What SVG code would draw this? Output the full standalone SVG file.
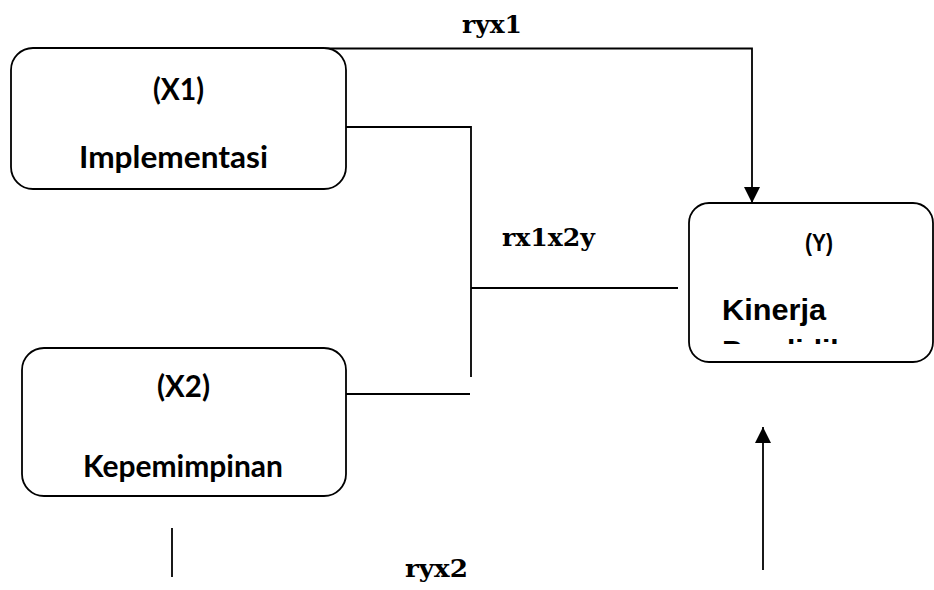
<svg xmlns="http://www.w3.org/2000/svg" width="934" height="590" viewBox="0 0 934 590">
<style>
.box{fill:#fff;stroke:#000;stroke-width:1.8}
.ln{fill:none;stroke:#000;stroke-width:1.8}
.sans{font-family:Lato,"Open Sans","Liberation Sans",sans-serif;font-weight:bold;font-size:30px;fill:#000}
.arial{font-family:"Liberation Sans",Arial,sans-serif;font-weight:bold;fill:#000}
.serif{font-family:"DejaVu Serif","Liberation Serif",serif;font-weight:bold;font-size:24px;fill:#000}
</style>
<defs>
<marker id="ah" markerUnits="userSpaceOnUse" markerWidth="16" markerHeight="16" viewBox="0 0 16 16" refX="16" refY="8" orient="auto">
<path d="M0,0 L16,8 L0,16 Z" fill="#000"/>
</marker>
<clipPath id="yclip"><rect x="689" y="203" width="245" height="141"/></clipPath>
</defs>
<rect width="934" height="590" fill="#fff"/>
<g id="connectors">
<polyline class="ln" points="325,48.5 752,48.5 752,203" marker-end="url(#ah)"/>
<polyline class="ln" points="346,127 471,127 471,377"/>
<line class="ln" x1="471" y1="288" x2="678" y2="288"/>
<line class="ln" x1="346" y1="394" x2="470" y2="394"/>
<line class="ln" x1="172" y1="528" x2="172" y2="577"/>
<line class="ln" x1="763" y1="570" x2="763" y2="427" marker-end="url(#ah)"/>
<text class="serif" x="462" y="33" textLength="60" lengthAdjust="spacingAndGlyphs">ryx1</text>
<text class="serif" x="502" y="246" textLength="93" lengthAdjust="spacingAndGlyphs">rx1x2y</text>
<text class="serif" x="405" y="577" textLength="63" lengthAdjust="spacingAndGlyphs">ryx2</text>
</g>
<g id="node-x1">
<rect class="box" x="11" y="48" width="335" height="141" rx="22" ry="22"/>
<text class="sans" x="153" y="100" textLength="51" lengthAdjust="spacingAndGlyphs">(X1)</text>
<text class="sans" x="79" y="168" textLength="189" lengthAdjust="spacingAndGlyphs">Implementasi</text>
</g>
<g id="node-x2">
<rect class="box" x="22" y="348" width="324" height="148" rx="22" ry="22"/>
<text class="sans" x="157" y="397" textLength="53" lengthAdjust="spacingAndGlyphs">(X2)</text>
<text class="sans" x="83" y="477" textLength="200" lengthAdjust="spacingAndGlyphs">Kepemimpinan</text>
</g>
<g id="node-y">
<rect class="box" x="689" y="203" width="244" height="159" rx="20" ry="20"/>
<text class="arial" x="805" y="251" font-size="23" textLength="28" lengthAdjust="spacingAndGlyphs">(Y)</text>
<g clip-path="url(#yclip)">
<text class="arial" x="722" y="320" font-size="30" textLength="104" lengthAdjust="spacingAndGlyphs">Kinerja</text>
<text class="arial" x="722" y="360.5" font-size="30">Pendidik</text>
</g>
</g>
</svg>
